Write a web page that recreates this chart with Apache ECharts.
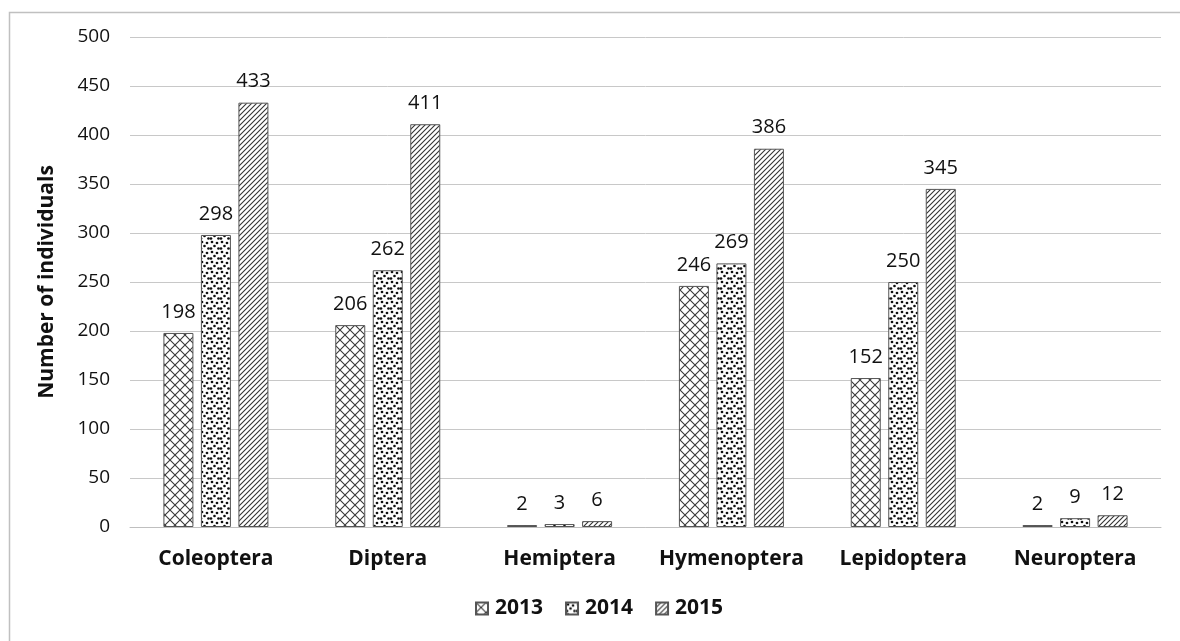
<!DOCTYPE html>
<html>
<head>
<meta charset="utf-8">
<script src="https://cdn.jsdelivr.net/npm/echarts@6/dist/echarts.min.js"></script>
<style>html,body{margin:0;padding:0;background:#fff;}#c{width:1180px;height:641px;}</style>
</head>
<body>
<div id="c"></div>
<script>
var categories = ['Coleoptera', 'Diptera', 'Hemiptera', 'Hymenoptera', 'Lepidoptera', 'Neuroptera'];
var seriesNames = ['2013', '2014', '2015'];
var values2013 = [198, 206, 2, 246, 152, 2];
var values2014 = [298, 262, 3, 269, 250, 9];
var values2015 = [433, 411, 6, 386, 345, 12];
var yTicks = [0, 50, 100, 150, 200, 250, 300, 350, 400, 450, 500];

function makeCanvas(w, h, draw) {
  var c = document.createElement('canvas');
  c.width = w; c.height = h;
  var ctx = c.getContext('2d');
  ctx.fillStyle = '#fff';
  ctx.fillRect(0, 0, w, h);
  draw(ctx, w, h);
  return c;
}
var crossCanvas = makeCanvas(10, 10, function (ctx, w, h) {
  ctx.strokeStyle = '#3a3a3a'; ctx.lineWidth = 1.1;
  ctx.beginPath();
  ctx.moveTo(0, 0); ctx.lineTo(w, h);
  ctx.moveTo(w, 0); ctx.lineTo(0, h);
  ctx.stroke();
});
var dotCanvas = makeCanvas(10, 10, function (ctx) {
  ctx.fillStyle = '#111';
  var pts = [[2, 2], [7, 3], [4.5, 6], [1, 8.5], [8.5, 8.5]];
  pts.forEach(function (p) { ctx.beginPath(); ctx.arc(p[0], p[1], 1.35, 0, Math.PI * 2); ctx.fill(); });
});
var diagCanvas = makeCanvas(5, 5, function (ctx, w, h) {
  ctx.strokeStyle = '#333'; ctx.lineWidth = 1.1;
  ctx.beginPath();
  ctx.moveTo(-1, h + 1); ctx.lineTo(w + 1, -1);
  ctx.moveTo(-1, 1); ctx.lineTo(1, -1);
  ctx.moveTo(w - 1, h + 1); ctx.lineTo(w + 1, h - 1);
  ctx.stroke();
});
var patterns = [
  { image: crossCanvas, repeat: 'repeat' },
  { image: dotCanvas, repeat: 'repeat' },
  { image: diagCanvas, repeat: 'repeat' }
];
var allValues = [values2013, values2014, values2015];

var font = '"Open Sans", sans-serif';
var chart = echarts.init(document.getElementById('c'), null, { renderer: 'canvas' });
chart.setOption({
  animation: false,
  backgroundColor: '#fff',
  graphic: [{
    type: 'rect', left: 7, top: 10,
    shape: { width: 1250, height: 700 },
    style: { fill: 'none', stroke: '#c0c0c0', lineWidth: 1.5 },
    silent: true, z: -10
  }],
  grid: { left: 130, right: 19, top: 37, bottom: 114 },
  legend: {
    bottom: 17, left: 470,
    itemWidth: 12, itemHeight: 12, itemGap: 22,
    icon: 'rect',
    textStyle: { fontFamily: font, fontSize: 21, fontWeight: 'bold', color: '#111', padding: [0, 0, 0, 2] },
    data: seriesNames
  },
  xAxis: {
    type: 'category', data: categories,
    axisLine: { lineStyle: { color: '#bfbfbf', width: 1 } },
    axisTick: { show: false },
    axisLabel: { interval: 0, hideOverlap: false, fontFamily: font, fontSize: 21, fontWeight: 'bold', color: '#111', margin: 22 }
  },
  yAxis: {
    type: 'value', min: 0, max: 500, interval: 50,
    name: 'Number of individuals', nameLocation: 'middle', nameGap: 72,
    nameTextStyle: { fontFamily: font, fontSize: 21, fontWeight: 'bold', color: '#111' },
    axisLine: { show: false }, axisTick: { show: false },
    splitLine: { lineStyle: { color: '#c8c8c8', width: 1 } },
    axisLabel: { fontFamily: font, fontSize: 19, color: '#111', margin: 20,
      formatter: function (v) { return yTicks.indexOf(v) >= 0 ? String(v) : ''; } }
  },
  series: seriesNames.map(function (n, i) {
    return {
      name: n, type: 'bar', data: allValues[i],
      barWidth: 30, barGap: '25%',
      itemStyle: { color: patterns[i], borderColor: '#555', borderWidth: 1 },
      label: { show: true, position: 'top', distance: 11, fontFamily: font, fontSize: 20, color: '#111' }
    };
  })
});
</script>
</body>
</html>
